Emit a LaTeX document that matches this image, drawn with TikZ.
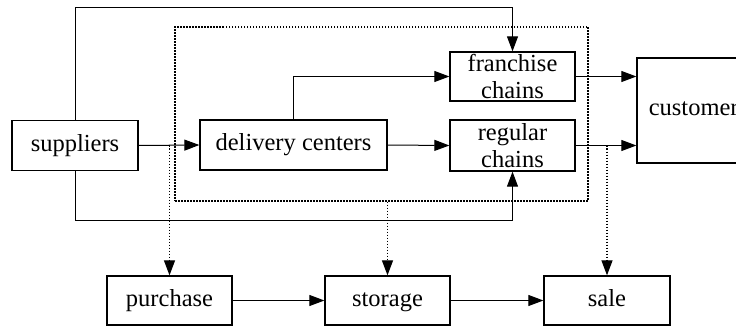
\documentclass[tikz,border=0pt]{standalone}
\usepackage{fontspec}
\setmainfont{Liberation Serif}
\usetikzlibrary{arrows.meta}
\begin{document}
\begin{tikzpicture}[x=1pt,y=-1pt,
  box/.style={draw,line width=1.3pt,rectangle,inner sep=0pt,align=center,
    font=\fontsize{24.5}{27.5}\selectfont},
  one/.style={box,text height=17pt,text depth=6pt},
  arr/.style={line width=1pt,-{Triangle[length=15pt,width=11pt]}},
  dotarr/.style={line width=1.2pt,dash pattern=on 1.5pt off 1.5pt,-{Triangle[length=15pt,width=11pt]}},
  grpbox/.style={draw,line width=1.2pt,dash pattern=on 1.5pt off 1.5pt,inner sep=0pt}]
\useasboundingbox (0,0) rectangle (736,326);
% group frame
\node[grpbox,minimum width=413pt,minimum height=174pt] (grp) at (381.5,114) {};
% nodes
\node[one,minimum width=126pt,minimum height=50pt] (sup) at (75,145.5) {suppliers};
\node[one,minimum width=187pt,minimum height=50pt] (del) at (293.5,145) {delivery centers};
\node[box,minimum width=125pt,minimum height=49pt] (fra) at (512.5,76.5) {franchise\\chains};
\node[box,minimum width=125pt,minimum height=51pt] (reg) at (512.5,145.5) {regular\\chains};
\node[one,minimum width=123pt,minimum height=105pt] (cus) at (698.5,110.5) {customers};
\node[one,minimum width=125pt,minimum height=49pt] (pur) at (169.5,300.5) {purchase};
\node[one,minimum width=125pt,minimum height=49pt] (sto) at (387.5,300.5) {storage};
\node[one,minimum width=126pt,minimum height=49pt] (sal) at (607,300.5) {sale};
\coordinate (top) at (0,8);
\coordinate (bot) at (0,220);
% connectors
\draw[arr] (sup.north) -- (sup.north |- top) -| (fra.north);
\draw[arr] (sup.south) |- (reg.south |- bot) -- (reg.south);
\draw[arr] (sup.east) -- (del.west);
\draw[arr] (del.north) |- (fra.west);
\draw[arr] (del.east) -- (reg.west);
\draw[arr] (fra.east) -- (fra.east -| cus.west);
\draw[arr] (reg.east) -- (reg.east -| cus.west);
\draw[arr] (pur.east) -- (sto.west);
\draw[arr] (sto.east) -- (sal.west);
% dotted connectors
\draw[dotarr] (pur.north |- sup.east) -- (pur.north);
\draw[dotarr] (sto.north |- grp.south) -- (sto.north);
\draw[dotarr] (sal.north |- reg.east) -- (sal.north);
\end{tikzpicture}
\end{document}
